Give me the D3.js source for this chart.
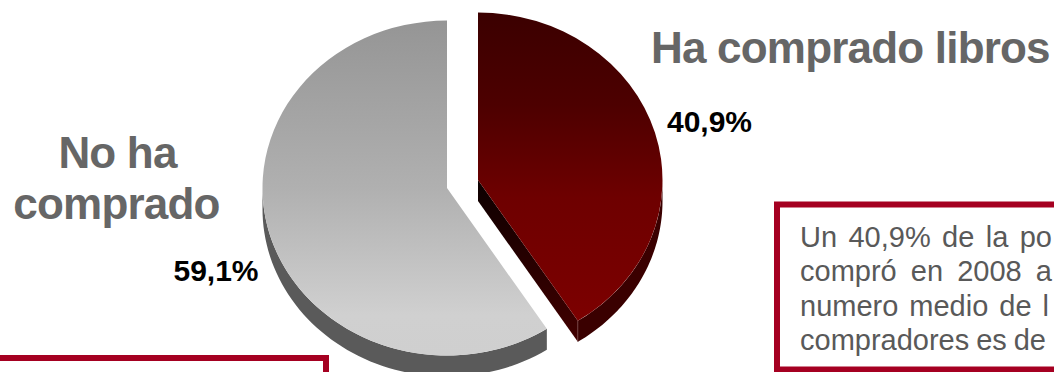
<!DOCTYPE html>
<html><head><meta charset="utf-8">
<script src="https://cdn.jsdelivr.net/npm/d3@7"></script>
<style>html,body{margin:0;padding:0;background:#fff;overflow:hidden}svg{display:block}text{font-family:"Liberation Sans",Arial,sans-serif}</style>
</head><body>
<svg id="c" width="1054" height="372"></svg>
<script>
const categories = ["Ha comprado libros", "No ha comprado"];
const values = [40.9, 59.1];
const valueLabels = ["40,9%", "59,1%"];
const boxLines = ["Un 40,9% de la po", "compró en 2008 a", "numero medio de l", "compradores es de"];

const rx = 184.5, ry = 167.5, depth = 21;
const svg = d3.select("#c");
const defs = svg.append("defs");
function grad(id, stops){
  const g = defs.append("linearGradient").attr("id", id).attr("x1",0).attr("x2",0).attr("y1",0).attr("y2",1);
  stops.forEach(s => g.append("stop").attr("offset", s[0]).attr("stop-color", s[1]));
}
grad("gRed", [[0,"#3b0000"],[0.3,"#4d0000"],[0.6,"#6e0000"],[1,"#7c0000"]]);
grad("gGrey", [[0,"#959595"],[0.5,"#b0b0b0"],[0.88,"#d0d0d0"],[1,"#cfcfcf"]]);
grad("gCut", [[0,"#0c0000"],[1,"#420000"]]);

const pie = d3.pie().sort(null).value(d => d);
const arcs = pie(values);
const arc = d3.arc().innerRadius(0).outerRadius(rx);
const centers = [[478, 180], [447, 188]];
const faces = ["url(#gRed)", "url(#gGrey)"];
const wall = ["#3a0000", "#5a5a5a"];
const visible = [[Math.PI/2, arcs[0].endAngle], [arcs[1].startAngle, 3*Math.PI/2]];

const px = a => rx*Math.sin(a), py = a => -ry*Math.cos(a);
const wallArea = d3.area().x(a => px(a)).y0(a => py(a)).y1(a => py(a)+depth);

arcs.forEach((d,i) => {
  const g = svg.append("g").attr("transform", `translate(${centers[i][0]},${centers[i][1]})`);
  const [a0,a1] = visible[i];
  g.append("path").attr("d", wallArea(d3.range(0,61).map(k => a0+(a1-a0)*k/60))).attr("fill", wall[i]);
  if (i === 0) {
    const a = d.endAngle, poly = [[0,0],[px(a),py(a)],[px(a),py(a)+depth],[0,depth]];
    g.append("path").attr("d", d3.line()(poly)+"Z").attr("fill","url(#gCut)");
    g.append("line").attr("x1",px(a)).attr("x2",px(a)).attr("y1",py(a)).attr("y2",py(a)+depth)
      .attr("stroke","#7a4a4a").attr("stroke-width",0.7);
  }
  g.append("path").attr("d", arc(d)).attr("transform",`scale(1,${ry/rx})`).attr("fill", faces[i]);
});

const big = {fill:"#666666", size:44};
function t(x,y,s,size,fill,anchor){
  return svg.append("text").attr("x",x).attr("y",y).attr("font-size",size).attr("font-weight","bold")
    .attr("fill",fill).attr("text-anchor",anchor||"start").text(s);
}
t(651,63,categories[0],big.size,big.fill).attr("letter-spacing",-0.8);
const parts = categories[1].split(" ");
t(117.5,168,parts.slice(0,2).join(" "),big.size,big.fill,"middle").attr("letter-spacing",-0.8);
t(116.5,219,parts[2],big.size,big.fill,"middle").attr("letter-spacing",-0.8);
t(709.5,132,valueLabels[0],30,"#000","middle");
t(216,281,valueLabels[1],30,"#000","middle");

svg.append("rect").attr("x",-10).attr("y",358).attr("width",336).attr("height",40)
  .attr("fill","#fff").attr("stroke","#a50021").attr("stroke-width",6);
svg.append("rect").attr("x",777).attr("y",204.5).attr("width",320).attr("height",165)
  .attr("fill","#fff").attr("stroke","#a50021").attr("stroke-width",6);
const lineEnds = [1052, 1052, 1049, 1046];
boxLines.forEach((s,i) => {
  const el = svg.append("text").attr("x",800).attr("y",247+i*34.4).attr("font-size",29).attr("fill","#595959").text(s);
  const natural = el.node().getComputedTextLength();
  const gaps = s.split(" ").length - 1;
  el.attr("word-spacing", (lineEnds[i]-800-natural)/gaps);
});
</script>
</body></html>
